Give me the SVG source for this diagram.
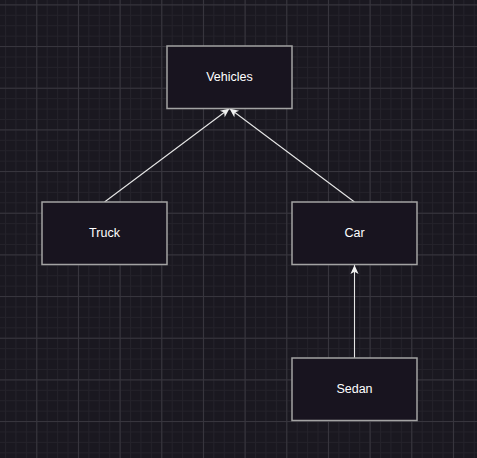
<svg xmlns="http://www.w3.org/2000/svg" width="477" height="458" viewBox="0 0 477 458">
  <defs>
    <pattern id="minor" width="10.4167" height="10.4167" patternUnits="userSpaceOnUse" x="-5.4" y="4.4">
      <path d="M0.5,0 V10.4167 M0,0.5 H10.4167" fill="none" stroke="#24222a" stroke-width="1"/>
    </pattern>
    <pattern id="major" width="41.6667" height="41.6667" patternUnits="userSpaceOnUse" x="-5.4" y="4.4">
      <path d="M0.5,0 V41.6667 M0,0.5 H41.6667" fill="none" stroke="#38363e" stroke-width="1"/>
    </pattern>
    <marker id="arrow" markerUnits="userSpaceOnUse" viewBox="0 0 10 10" refX="10" refY="5" markerWidth="10" markerHeight="9" orient="auto">
      <path d="M0,0.5 L10,5 L0,9.5 L2.6,5 Z" fill="#f0f0f0"/>
    </marker>
    <style>
      .node rect { fill: #18141f; stroke: #a3a3a3; stroke-width: 1.5; }
      .node text { fill: #ffffff; font-family: "Liberation Sans", Arial, Helvetica, sans-serif; font-size: 12.5px; text-anchor: middle; }
      .edge { stroke: #e6e6e6; stroke-width: 1.1; fill: none; marker-end: url(#arrow); }
    </style>
  </defs>
  <rect width="477" height="458" fill="#1a1820"/>
  <rect width="477" height="458" fill="url(#minor)"/>
  <rect width="477" height="458" fill="url(#major)"/>

  <g id="connectors">
    <path class="edge" d="M104.5,202 L229.5,108.5"/>
    <path class="edge" d="M354.5,202 L229.5,108.5"/>
    <path class="edge" d="M354.5,358 L354.5,265"/>
  </g>

  <g id="vehicles" class="node">
    <rect x="167" y="46" width="125" height="62.5"/>
    <text x="229.5" y="81">Vehicles</text>
  </g>
  <g id="truck" class="node">
    <rect x="42" y="202" width="125" height="62.5"/>
    <text x="104.5" y="237">Truck</text>
  </g>
  <g id="car" class="node">
    <rect x="292" y="202" width="125" height="62.5"/>
    <text x="354.5" y="237">Car</text>
  </g>
  <g id="sedan" class="node">
    <rect x="292" y="358" width="125" height="62.5"/>
    <text x="354.5" y="393">Sedan</text>
  </g>
</svg>
